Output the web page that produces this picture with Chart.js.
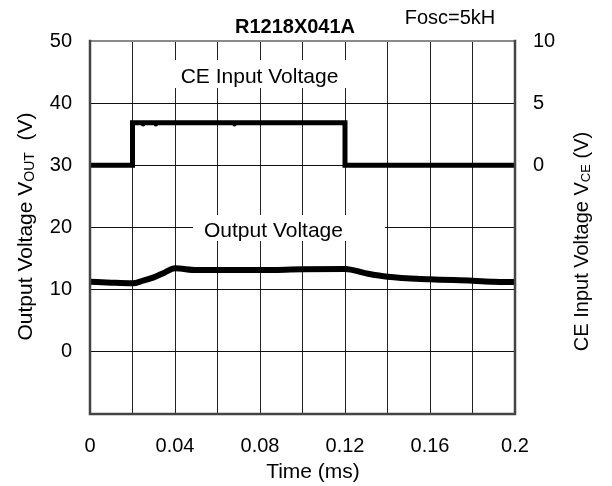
<!DOCTYPE html>
<html>
<head>
<meta charset="utf-8">
<script src="https://cdn.jsdelivr.net/npm/chart.js@4/dist/chart.umd.min.js"></script>
<style>
  html, body { margin: 0; padding: 0; background: #fff; }
  #wrap { width: 612px; height: 486px; }
</style>
</head>
<body>
<div id="wrap"><canvas id="c" width="612" height="486"></canvas></div>
<script>
// ----- data -----
const ceTime  = [0,    0.02, 0.02, 0.12, 0.12, 0.2];
const ceVolt  = [0,    0,    3.43, 3.43, 0,    0];
const ceDotTime = [0.025, 0.031, 0.068];
const ceDotVolt = [3.3,   3.3,   3.3];

const outTime = [0,     0.01,  0.02,  0.025, 0.03,  0.035, 0.04,  0.05,  0.06,  0.08,  0.10,  0.12,  0.13,  0.14,  0.16,  0.18,  0.19,  0.2];
const outVolt = [11.28, 11.12, 11.02, 11.44, 11.98, 12.73, 13.43, 13.16, 13.16, 13.16, 13.27, 13.32, 12.62, 12.08, 11.67, 11.44, 11.28, 11.23];

const xTicksShown = [0, 0.04, 0.08, 0.12, 0.16, 0.2];
const leftTicks   = [0, 10, 20, 30, 40, 50];
const rightTicks  = [0, 5, 10];

const FONT = "'Liberation Sans', Arial, sans-serif";
const pts = (xs, ys) => xs.map((x, i) => ({ x, y: ys[i] }));

// ----- helpers -----
function drawSubText(ctx, parts, size, subSize) {
  // parts: [[text, isSub], ...], drawn centred on 0 along the baseline
  let total = 0;
  parts.forEach(([t, sub]) => { ctx.font = `${sub ? subSize : size}px ${FONT}`; total += ctx.measureText(t).width; });
  let x = -total / 2;
  parts.forEach(([t, sub]) => {
    ctx.font = `${sub ? subSize : size}px ${FONT}`;
    ctx.fillText(t, x, sub ? 1.5 : 0);
    x += ctx.measureText(t).width;
  });
}

const textPlugin = {
  id: "texts",
  beforeDatasetsDraw(chart) {
    const ctx = chart.ctx;
    ctx.save();
    ctx.fillStyle = "#fff";
    ctx.fillRect(150, 60, 220, 28);
    ctx.fillRect(193, 215, 192, 26);
    ctx.restore();
  },
  afterDraw(chart) {
    const ctx = chart.ctx, a = chart.chartArea;
    ctx.save();
    // frame
    ctx.lineCap = "square";
    ctx.strokeStyle = "#8a8a8a"; ctx.lineWidth = 2;
    ctx.beginPath(); ctx.moveTo(a.left, a.top); ctx.lineTo(a.right, a.top); ctx.stroke();
    ctx.strokeStyle = "#444"; ctx.lineWidth = 2.5;
    ctx.beginPath(); ctx.moveTo(a.left, a.top); ctx.lineTo(a.left, a.bottom); ctx.lineTo(a.right, a.bottom); ctx.lineTo(a.right, a.top); ctx.stroke();

    ctx.fillStyle = "#000";
    ctx.textBaseline = "alphabetic";
    ctx.textAlign = "center";
    ctx.font = `bold 20px ${FONT}`;
    ctx.fillText("R1218X041A", 295, 33);
    ctx.font = `20px ${FONT}`;
    ctx.fillText("Fosc=5kH", 450, 24);
    ctx.font = `21px ${FONT}`;
    ctx.fillText("CE Input Voltage", 259.5, 83);
    ctx.fillText("Time (ms)", 313, 478);

    // clipped label
    ctx.save();
    ctx.beginPath(); ctx.rect(193, 215, 192, 26); ctx.clip();
    ctx.textAlign = "left";
    ctx.fillText("Output Voltage", 204, 237);
    ctx.restore();

    ctx.textAlign = "left";
    ctx.save();
    ctx.translate(32, 226.5); ctx.rotate(-Math.PI / 2);
    drawSubText(ctx, [["Output Voltage V", false], ["OUT", true], ["  (V)", false]], 21, 14);
    ctx.restore();

    ctx.save();
    ctx.translate(588, 241.5); ctx.rotate(-Math.PI / 2);
    drawSubText(ctx, [["CE Input Voltage V", false], ["CE", true], [" (V)", false]], 20, 13);
    ctx.restore();
    ctx.restore();
  }
};

new Chart(document.getElementById("c").getContext("2d"), {
  type: "line",
  data: {
    datasets: [
      { data: pts(ceTime, ceVolt), yAxisID: "y1", borderColor: "#000", borderWidth: 5, pointRadius: 0, tension: 0, borderJoinStyle: "miter" },
      { data: pts(ceDotTime, ceDotVolt), yAxisID: "y1", showLine: false, pointRadius: 2.2, pointBackgroundColor: "#000", pointBorderWidth: 0 },
      { data: pts(outTime, outVolt), yAxisID: "y", borderColor: "#000", borderWidth: 6, pointRadius: 0, tension: 0.3, cubicInterpolationMode: "monotone" }
    ]
  },
  options: {
    responsive: false, animation: false, events: [],
    layout: { padding: { top: 41, left: 0, right: 0, bottom: 0 } },
    plugins: { legend: { display: false }, tooltip: { enabled: false } },
    scales: {
      x: {
        type: "linear", min: 0, max: 0.2,
        afterFit: (s) => { s.height = 72; },
        afterBuildTicks: (s) => { s.ticks = []; for (let i = 0; i <= 10; i++) s.ticks.push({ value: i * 0.02 }); },
        ticks: {
          padding: 20, maxRotation: 0, autoSkip: false, color: "#000", font: { family: FONT, size: 20 },
          callback: (v) => { const r = Math.round(v * 100) / 100; return xTicksShown.includes(r) ? String(r) : ""; }
        },
        grid: { color: "#222", lineWidth: 1, drawTicks: false },
        border: { display: false }
      },
      y: {
        position: "left", min: -10, max: 50,
        afterFit: (s) => { s.width = 90; },
        ticks: {
          stepSize: 10, padding: 18, color: "#000", font: { family: FONT, size: 20 },
          callback: (v) => leftTicks.includes(v) ? String(v) : ""
        },
        grid: { color: "#111", lineWidth: 1, drawTicks: false },
        border: { display: false }
      },
      y1: {
        position: "right", min: -20, max: 10,
        afterFit: (s) => { s.width = 97; },
        ticks: {
          stepSize: 5, padding: 18, color: "#000", font: { family: FONT, size: 20 },
          callback: (v) => rightTicks.includes(v) ? String(v) : ""
        },
        grid: { display: false, drawTicks: false },
        border: { display: false }
      }
    }
  },
  plugins: [textPlugin]
});
</script>
</body>
</html>
